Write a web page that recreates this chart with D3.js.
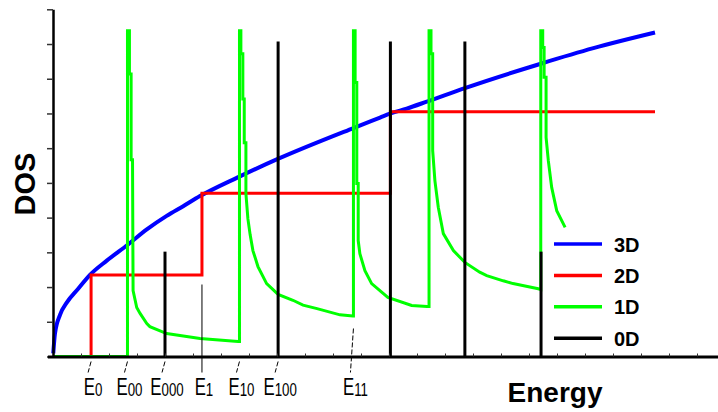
<!DOCTYPE html>
<html>
<head>
<meta charset="utf-8">
<script src="https://cdn.jsdelivr.net/npm/d3@7"></script>
<style>
  body { margin: 0; background: #fff; }
  svg { display: block; }
</style>
</head>
<body>
<script>
// size of the picture
var w = 718;
var h = 412;

// 3D density of states [energy, DOS]
var dos3D = [
  [0.01, 0.09], [0.07, 0.66], [0.25, 1.20], [0.49, 1.55], [0.90, 1.95],
  [1.32, 2.35], [1.92, 2.76], [2.67, 3.22], [3.35, 3.66], [4.06, 4.05],
  [4.65, 4.33], [5.25, 4.62], [6.60, 5.16], [8.03, 5.69], [10.73, 6.58],
  [11.68, 6.88], [12.06, 7.00], [12.63, 7.14], [13.35, 7.34], [14.71, 7.73],
  [17.45, 8.44], [19.30, 8.88], [21.50, 9.33]
];

// 2D: step edges and plateau heights
var edges2D = [1.36, 5.32, 12.05];
var levels2D = [2.35, 4.70, 7.05];
var end2D = 21.5;

// 1D: spikes at each sub-band edge, then decaying tails
var dos1D = [
  [0, 0], [2.66, 0], [2.66, 9.38], [2.73, 9.38], [2.73, 8.14], [2.79, 8.14],
  [2.79, 5.67], [2.84, 5.67], [2.86, 1.90], [2.99, 1.41], [3.11, 1.24],
  [3.35, 0.95], [3.46, 0.86], [4.06, 0.66], [5.25, 0.52], [6.61, 0.43],
  [6.66, 0.43], [6.66, 9.38], [6.71, 9.38], [6.71, 8.72], [6.78, 8.72],
  [6.78, 7.42], [6.83, 7.42], [6.83, 6.16], [6.89, 6.16], [6.89, 4.69],
  [6.96, 3.97], [7.04, 3.51], [7.14, 3.05], [7.32, 2.59], [7.63, 2.10],
  [8.04, 1.79], [8.57, 1.62], [8.93, 1.48], [9.43, 1.38], [10.25, 1.20],
  [10.71, 1.17],
  [10.73, 1.17], [10.73, 9.38], [10.79, 9.38], [10.79, 7.89], [10.85, 7.89],
  [10.85, 4.98], [10.90, 4.98], [10.90, 3.34], [10.96, 2.96], [11.14, 2.47],
  [11.38, 2.10], [11.96, 1.70], [12.81, 1.47], [13.36, 1.44],
  [13.43, 1.44], [13.43, 9.38], [13.50, 9.38], [13.50, 8.72], [13.56, 8.72],
  [13.56, 5.93], [13.64, 5.06], [13.76, 4.30], [13.94, 3.54], [14.30, 3.05],
  [14.71, 2.71], [15.24, 2.43], [15.49, 2.33], [16.08, 2.18], [16.43, 2.10],
  [17.33, 1.95], [17.42, 1.93],
  [17.42, 9.38], [17.49, 9.38], [17.49, 8.90], [17.54, 8.90], [17.54, 8.04],
  [17.61, 8.04], [17.61, 6.31], [17.69, 5.64], [17.81, 4.87], [17.99, 4.20],
  [18.29, 3.72]
];

// 0D: delta peaks [energy, height]
var dos0D = [[4.0, 3.02], [8.04, 9.07], [12.05, 9.07], [14.71, 9.07], [17.43, 3.02]];

// level labels under the axis
var levelMain = ["E", "E", "E", "E", "E", "E", "E"];
var levelSub = ["0", "00", "000", "1", "10", "100", "11"];
var levelEnergy = [1.36, 2.66, 4.0, 5.32, 6.66, 8.04, 10.73];

// legend
var legendNames = ["3D", "2D", "1D", "0D"];
var legendColors = ["#0000ff", "#ff0000", "#00ff00", "#000000"];

var xScale = d3.scaleLinear().domain([-0.2, 23.75]).range([47.4, 718]);
var yScale = d3.scaleLinear().domain([0, 10]).range([356.5, 9.3]);

var svg = d3.select("body").append("svg")
  .attr("width", w)
  .attr("height", h);

var line = d3.line()
  .x(function(d) { return xScale(d[0]); })
  .y(function(d) { return yScale(d[1]); });

// 3D
svg.append("path")
  .datum(dos3D)
  .attr("fill", "none")
  .attr("stroke", "#0000ff")
  .attr("stroke-width", 4)
  .attr("d", line.curve(d3.curveMonotoneX));

// 2D staircase
var pts2D = [[edges2D[0], 0]];
edges2D.forEach(function(e, i) { pts2D.push([e, levels2D[i]]); });
pts2D.push([end2D, levels2D[levels2D.length - 1]]);
svg.append("path")
  .datum(pts2D)
  .attr("fill", "none")
  .attr("stroke", "#ff0000")
  .attr("stroke-width", 3)
  .attr("d", line.curve(d3.curveStepAfter));

// 1D
svg.append("path")
  .datum(dos1D)
  .attr("fill", "none")
  .attr("stroke", "#00ff00")
  .attr("stroke-width", 3)
  .attr("d", line.curve(d3.curveLinear));

// 0D
svg.selectAll(".peak")
  .data(dos0D)
  .enter()
  .append("line")
  .attr("class", "peak")
  .attr("x1", function(d) { return xScale(d[0]); })
  .attr("x2", function(d) { return xScale(d[0]); })
  .attr("y1", yScale(0))
  .attr("y2", function(d) { return yScale(d[1]); })
  .attr("stroke", "#000")
  .attr("stroke-width", 3);

// axes
var yAxis = d3.axisLeft(yScale).tickValues(d3.range(0, 11)).tickSizeInner(6).tickSizeOuter(0).tickFormat("");
var xAxis = d3.axisBottom(xScale).tickValues(d3.range(1, 24)).tickSizeInner(-3).tickSizeOuter(0).tickFormat("");

var gy = svg.append("g")
  .attr("transform", "translate(" + xScale(0) + ",0)")
  .call(yAxis);
gy.select(".domain").attr("stroke", "#000").attr("stroke-width", 2.5);
gy.selectAll(".tick line").attr("stroke", "#333").attr("stroke-width", 1.5);

var gx = svg.append("g")
  .attr("transform", "translate(0," + yScale(0) + ")")
  .call(xAxis);
gx.select(".domain").attr("stroke", "#000").attr("stroke-width", 3);
gx.selectAll(".tick line").attr("stroke", "#333").attr("stroke-width", 1);

// level pointers and labels
var labels = svg.append("g").attr("class", "levels");
levelEnergy.forEach(function(e, i) {
  var lx = xScale(e);
  var top = (levelSub[i] === "1" || levelSub[i] === "11") ? yScale(0) - (i === 3 ? 72 : 28) : yScale(0) + 5;
  labels.append("line")
    .attr("x1", lx)
    .attr("y1", top)
    .attr("x2", lx - (i === 3 ? 0 : 3))
    .attr("y2", yScale(0) + 16)
    .attr("stroke", "#000")
    .attr("stroke-width", 1)
    .attr("stroke-dasharray", i === 3 ? null : "5,2");
  // narrow look of the original labels: squeeze sideways
  var t = labels.append("text")
    .attr("transform", "translate(" + (lx + 2) + ",395) scale(0.7,1)")
    .attr("text-anchor", "middle")
    .attr("font-family", "'Liberation Sans', Arial, sans-serif")
    .attr("font-size", 24)
    .attr("fill", "#000");
  t.append("tspan").text(levelMain[i]);
  t.append("tspan").attr("font-size", 19).attr("dy", 1).text(levelSub[i]);
});

// axis titles
svg.append("text")
  .attr("transform", "translate(35,184) rotate(-90)")
  .attr("text-anchor", "middle")
  .attr("font-family", "'Liberation Sans', Arial, sans-serif")
  .attr("font-weight", "bold")
  .attr("font-size", 29)
  .text("DOS");

svg.append("text")
  .attr("x", 555)
  .attr("y", 402)
  .attr("text-anchor", "middle")
  .attr("font-family", "'Liberation Sans', Arial, sans-serif")
  .attr("font-weight", "bold")
  .attr("font-size", 28)
  .text("Energy");

// legend
var legend = svg.append("g").attr("transform", "translate(554,244)");
var rows = legend.selectAll("g")
  .data(legendNames)
  .enter()
  .append("g")
  .attr("transform", function(d, i) { return "translate(0," + (i * 31.4) + ")"; });
rows.append("line")
  .attr("x1", 0)
  .attr("x2", 48)
  .attr("stroke", function(d, i) { return legendColors[i]; })
  .attr("stroke-width", 3.5);
rows.append("text")
  .attr("x", 60)
  .attr("y", 7.5)
  .attr("font-family", "'Liberation Sans', Arial, sans-serif")
  .attr("font-weight", "bold")
  .attr("font-size", 20)
  .text(function(d) { return d; });
</script>
</body>
</html>
